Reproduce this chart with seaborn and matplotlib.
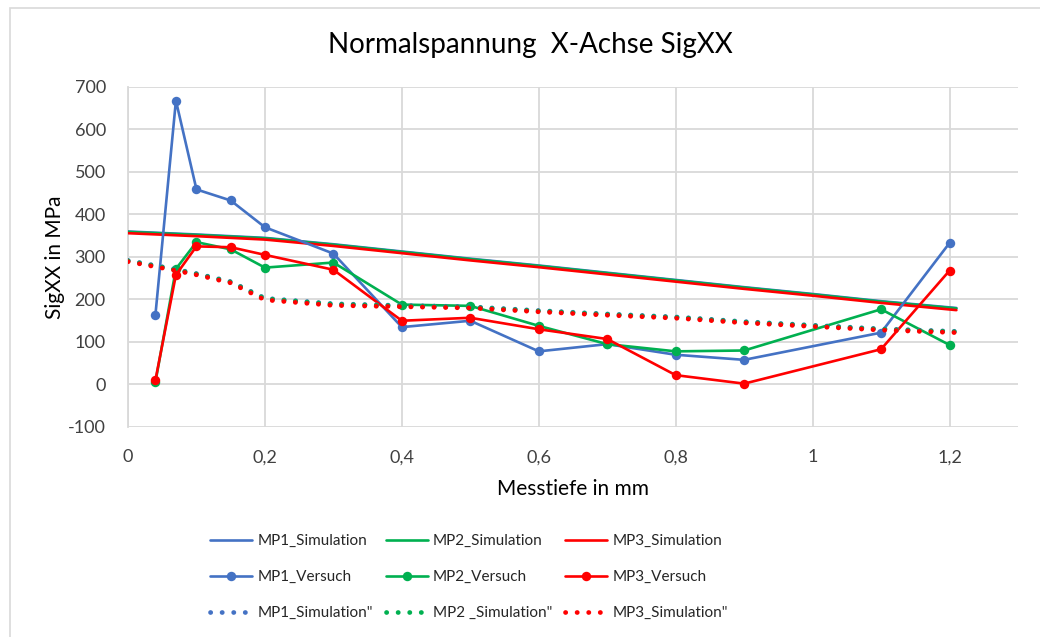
import matplotlib
matplotlib.use("Agg")
import matplotlib.pyplot as plt
import seaborn as sns
import pandas as pd
from matplotlib.patches import Rectangle
from matplotlib.ticker import FixedLocator, FuncFormatter

# ---------------- data ----------------
x_sim = [0, 0.1, 0.2, 0.3, 0.4, 0.5, 0.6, 0.7, 0.8, 0.9, 1.0, 1.1, 1.21]
mp1_sim = [360, 353, 345, 330, 313, 296, 280, 263, 246, 229, 213, 196, 180]
mp2_sim = [359, 352, 344, 329, 312, 295, 279, 262, 245, 228, 212, 195, 179]
mp3_sim = [356, 349, 341, 326, 309, 292, 276, 259, 242, 225, 209, 192, 175]

x_vers = [0.04, 0.07, 0.1, 0.15, 0.2, 0.3, 0.4, 0.5, 0.6, 0.7, 0.8, 0.9, 1.1, 1.2]
mp1_vers = [163, 668, 459, 433, 370, 308, 135, 150, 78, 95, 70, 58, 122, 333]
mp2_vers = [5, 272, 335, 318, 275, 287, 188, 185, 138, 95, 78, 80, 177, 93]
mp3_vers = [10, 258, 325, 323, 305, 270, 150, 157, 130, 107, 22, 2, 83, 268]

x_sim2 = [0, 0.07, 0.1, 0.15, 0.2, 0.3, 0.4, 0.5, 0.6, 0.7, 0.8, 0.9, 1.1, 1.21]
mp1_sim2 = [292, 271, 261, 242, 203, 190, 186, 183, 174, 166, 159, 148, 131, 125]
mp2_sim2 = [291, 270, 260, 241, 202, 189, 185, 182, 173, 165, 158, 147, 130, 124]
mp3_sim2 = [289, 268, 258, 239, 199, 186, 183, 180, 171, 163, 156, 145, 128, 122]

labels_sim = ["MP1_Simulation", "MP2_Simulation", "MP3_Simulation"]
labels_vers = ["MP1_Versuch", "MP2_Versuch", "MP3_Versuch"]
labels_sim2 = ['MP1_Simulation"', 'MP2 _Simulation"', 'MP3_Simulation"']

x_ticks = [0, 0.2, 0.4, 0.6, 0.8, 1.0, 1.2]
y_ticks = [-100, 0, 100, 200, 300, 400, 500, 600, 700]

colors = ["#4472C4", "#00B050", "#FF0000"]

# ---------------- figure ----------------
sns.set_style("white")
plt.rcParams["font.family"] = ["Lato", "DejaVu Sans"]

fig = plt.figure(figsize=(10.4, 6.37), dpi=100)
W, H = 1040, 637
ax = fig.add_axes([128 / W, 1 - 427 / H, 890 / W, 340 / H])

# chart frame
fig.patches.append(Rectangle((10 / W, -0.05), 1.2, 1 - 8 / H + 0.05,
                             transform=fig.transFigure, fill=False,
                             edgecolor="#D9D9D9", linewidth=1.2, zorder=0))

sim_sets = [mp1_sim, mp2_sim, mp3_sim]
vers_sets = [mp1_vers, mp2_vers, mp3_vers]
sim2_sets = [mp1_sim2, mp2_sim2, mp3_sim2]

for i in range(3):
    df = pd.DataFrame({"x": x_sim, "y": sim_sets[i]})
    sns.lineplot(data=df, x="x", y="y", ax=ax, color=colors[i], linewidth=1.9,
                 sort=False, estimator=None, label=labels_sim[i], zorder=3)
for i in range(3):
    df = pd.DataFrame({"x": x_vers, "y": vers_sets[i]})
    sns.lineplot(data=df, x="x", y="y", ax=ax, color=colors[i], linewidth=1.9,
                 marker="o", markersize=6.8, markeredgewidth=0,
                 sort=False, estimator=None, label=labels_vers[i], zorder=4)
for i in range(3):
    df = pd.DataFrame({"x": x_sim2, "y": sim2_sets[i]})
    sns.lineplot(data=df, x="x", y="y", ax=ax, color=colors[i], linewidth=3.4,
                 linestyle=(0, (0.05, 2.4)), dash_capstyle="round",
                 sort=False, estimator=None, label=labels_sim2[i], zorder=5)

ax.set_xlim(0, 1.3)
ax.set_ylim(-100, 700)
ax.xaxis.set_major_locator(FixedLocator(x_ticks))
ax.yaxis.set_major_locator(FixedLocator(y_ticks))
ax.xaxis.set_major_formatter(FuncFormatter(lambda v, p: ("%g" % round(v, 1)).replace(".", ",")))
ax.yaxis.set_major_formatter(FuncFormatter(lambda v, p: "%d" % v))
ax.grid(True, color="#D9D9D9", linewidth=1.3)
ax.set_axisbelow(True)
for s in ["top", "right", "bottom"]:
    ax.spines[s].set_visible(False)
ax.spines["left"].set_color("#D9D9D9")
ax.spines["left"].set_linewidth(1.3)
ax.tick_params(axis="both", length=0, labelsize=13, colors="#404040")
ax.tick_params(axis="y", pad=16)
ax.tick_params(axis="x", pad=16)

ax.set_xlabel("Messtiefe in mm", fontsize=15, color="#000000", labelpad=10)
ax.set_ylabel("SigXX in MPa", fontsize=15, color="#000000", labelpad=2)
fig.text(530 / W, 1 - 45 / H, "Normalspannung  X-Achse SigXX", ha="center", va="center",
         fontsize=20, color="#000000")

# legend: row-wise ordering for 3 columns
h, l = ax.get_legend_handles_labels()
lab2h = dict(zip(l, h))
order = []
for i in range(3):
    order += [labels_sim[i], labels_vers[i], labels_sim2[i]]
ax.legend([lab2h[k] for k in order], order, ncol=3, loc="center",
          bbox_to_anchor=(469 / W, 1 - 577 / H), bbox_transform=fig.transFigure,
          frameon=False, fontsize=11, handlelength=2.75, columnspacing=0.85,
          labelspacing=1.45, handletextpad=0.33)

fig.savefig("out.png", dpi=100)
